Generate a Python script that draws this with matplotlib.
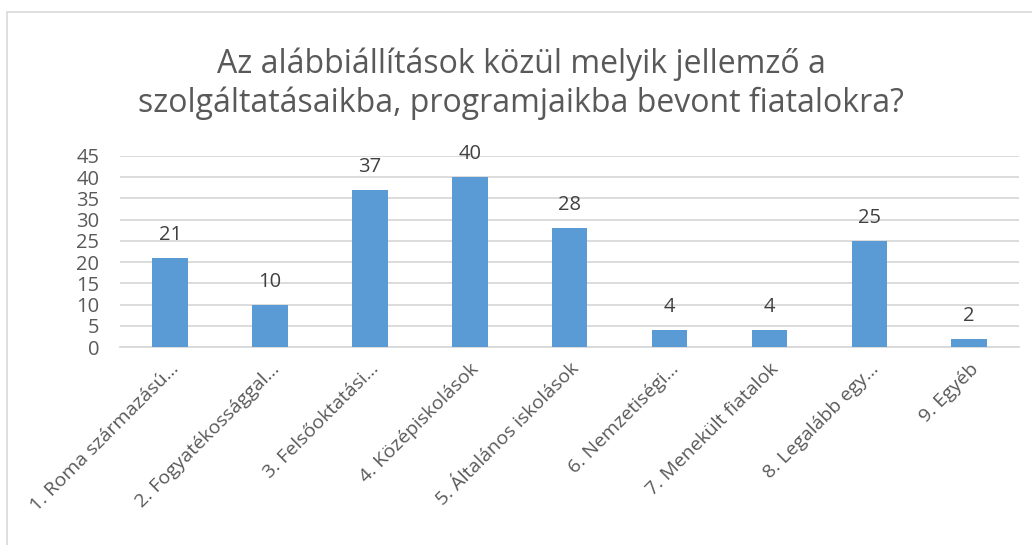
import matplotlib.pyplot as plt
from matplotlib.patches import Rectangle

# data
categories = [
    "1. Roma származású...",
    "2. Fogyatékossággal...",
    "3. Felsőoktatási...",
    "4. Középiskolások",
    "5. Általános iskolások",
    "6. Nemzetiségi...",
    "7. Menekült fiatalok",
    "8. Legalább egy...",
    "9. Egyéb",
]
values = [21, 10, 37, 40, 28, 4, 4, 25, 2]
yticks = [0, 5, 10, 15, 20, 25, 30, 35, 40, 45]

title = "Az alábbiállítások közül melyik jellemző a\nszolgáltatásaikba, programjaikba bevont fiatalokra?"

text_color = "#595959"
bar_color = "#5B9BD5"
grid_color = "#D9D9D9"

plt.rcParams["font.family"] = ["Open Sans", "DejaVu Sans"]

fig = plt.figure(figsize=(10.32, 5.45), dpi=100)
ax = fig.add_axes([0.1165, 0.363, 0.871, 0.351])

x = range(len(categories))
ax.bar(x, values, width=0.356, color=bar_color, zorder=3)
for xi, v in zip(x, values):
    ax.text(xi, v + 4.2, str(v), ha="center", va="baseline",
            fontsize=14.5, color="#404040")

ax.set_xlim(-0.5, len(categories) - 0.5)
ax.set_ylim(0, 45)
ax.set_yticks(yticks)
ax.set_yticklabels([str(t) for t in yticks], fontsize=14.5, color=text_color)
ax.set_xticks(list(x))
ax.set_xticklabels(categories, rotation=45, ha="right", rotation_mode="anchor",
                   fontsize=14, color=text_color)
ax.tick_params(axis="y", length=0, pad=15)
ax.tick_params(axis="x", length=0, pad=9)

ax.grid(axis="y", color=grid_color, linewidth=1.3, zorder=0)
for s in ["top", "right", "left"]:
    ax.spines[s].set_visible(False)
ax.spines["bottom"].set_color(grid_color)
ax.spines["bottom"].set_linewidth(1.3)

fig.text(0.505, 0.846, title, ha="center", va="center", fontsize=23,
         color=text_color, linespacing=1.2)

# outer frame
fig.patches.append(Rectangle((0.0068, -0.05), 1.05, 1.028, transform=fig.transFigure,
                             fill=False, edgecolor="#D9D9D9", linewidth=1.2))

fig.savefig("out.png", dpi=100)
